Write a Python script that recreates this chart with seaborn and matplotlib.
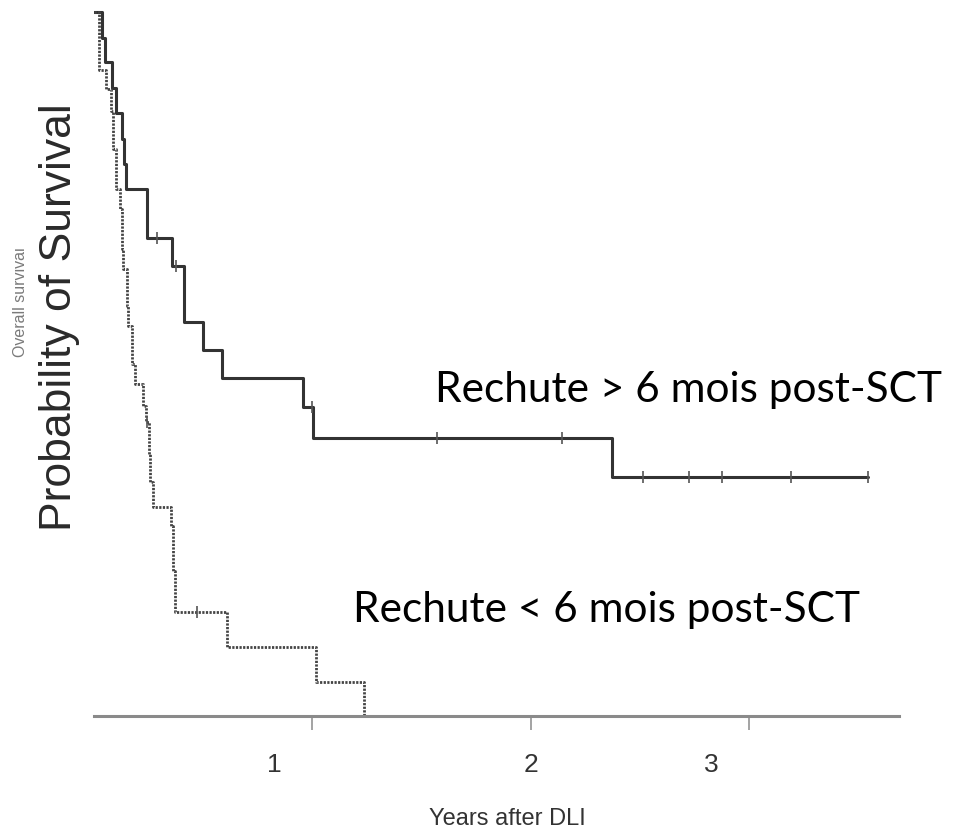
import numpy as np
import pandas as pd
import matplotlib
matplotlib.use("Agg")
import matplotlib.pyplot as plt
from matplotlib.transforms import ScaledTranslation
from matplotlib.patches import Rectangle
import seaborn as sns

# Kaplan-Meier steps, time in years after DLI
late_time = [0.000, 0.037, 0.050, 0.082, 0.101, 0.128, 0.137, 0.146, 0.243,
             0.357, 0.412, 0.499, 0.586, 0.957, 1.002, 2.371, 3.542]
late_surv = [1.000, 0.963, 0.929, 0.892, 0.857, 0.820, 0.784, 0.749, 0.679,
             0.639, 0.560, 0.520, 0.480, 0.439, 0.395, 0.339, 0.339]
late_censor = [0.288, 0.375, 0.998, 1.570, 2.142, 2.513, 2.723, 2.874, 3.190, 3.542]

early_time = [0.000, 0.023, 0.055, 0.078, 0.087, 0.101, 0.119, 0.128, 0.133,
              0.151, 0.156, 0.174, 0.188, 0.225, 0.236, 0.252, 0.256, 0.270,
              0.353, 0.362, 0.371, 0.609, 1.016, 1.236]
early_surv = [1.000, 0.918, 0.891, 0.859, 0.805, 0.749, 0.720, 0.663, 0.635,
              0.582, 0.554, 0.500, 0.472, 0.440, 0.418, 0.372, 0.332, 0.297,
              0.270, 0.206, 0.148, 0.098, 0.048, 0.000]
early_censor = [0.243, 0.471]

x_ticks = [1, 2, 3]
x_tick_labels = ["1", "2", "3"]

label_late = "Rechute > 6 mois post-SCT"
label_early = "Rechute < 6 mois post-SCT"


def surv_at(times, surv, t):
    idx = np.searchsorted(np.asarray(times), np.asarray(t), side="right") - 1
    return np.asarray(surv)[idx]


late_df = pd.DataFrame({"time": late_time, "surv": late_surv})
early_df = pd.DataFrame({"time": early_time, "surv": early_surv})

sns.set_theme(style="white")
plt.rcParams["font.family"] = ["Liberation Sans", "DejaVu Sans"]

W, H = 954, 837
fig = plt.figure(figsize=(W / 100, H / 100), dpi=100)
px_per_year = 218.5
left_px, right_px, zero_px, top_s = 94, 899, 717, 1.02
ax = fig.add_axes([left_px / W, (H - zero_px) / H,
                   (right_px - left_px) / W, top_s * 704 / H])

sns.lineplot(data=late_df, x="time", y="surv", ax=ax, drawstyle="steps-post",
             estimator=None, sort=False, color="#333333", linewidth=2.2)
sns.lineplot(data=early_df, x="time", y="surv", ax=ax, drawstyle="steps-post",
             estimator=None, sort=False, color="#444444", linewidth=2.0,
             linestyle=(0, (0.8, 0.5)))

# censoring marks
ax.plot(late_censor, surv_at(late_time, late_surv, late_censor), linestyle="none",
        marker="|", markersize=9, markeredgewidth=1.2, color="#555555")
ax.plot(early_censor, surv_at(early_time, early_surv, early_censor), linestyle="none",
        marker="|", markersize=9, markeredgewidth=1.2, color="#555555")

ax.set_xlim(0, (right_px - left_px) / px_per_year)
ax.set_ylim(0, top_s)

for side in ("left", "top", "right"):
    ax.spines[side].set_visible(False)
ax.spines["bottom"].set_color("#8a8a8a")
ax.spines["bottom"].set_linewidth(2.2)

ax.set_yticks([])
ax.set_xticks(x_ticks)
ax.set_xticklabels(x_tick_labels)
ax.tick_params(axis="x", direction="out", length=10, width=1.1, color="#8a8a8a",
               pad=16, labelsize=19, labelcolor="#333333", bottom=True)

ax.set_xlabel("Years after DLI", fontsize=17, color="#333333")
ax.xaxis.set_label_coords(0.514, -0.127)

ax.set_ylabel("Probability of Survival", fontsize=32, color="#2a2a2a")
ax.yaxis.set_label_coords(-0.0174, 0.557)

fig.text(28 / W, 1 - 302 / H, "Overall survival", rotation=90, ha="right",
         va="center", fontsize=11.5, color="#7a7a7a")
fig.add_artist(Rectangle((0, 1 - 308 / H), 15.5 / W, 62 / H, transform=fig.transFigure,
                         facecolor="white", edgecolor="none", zorder=10))

ax.text(1.561, 0.447, label_late, family=["Lato", "DejaVu Sans"], fontsize=30.5,
        va="baseline", ha="left", color="black", clip_on=False)
ax.text(1.185, 0.135, label_early, family=["Lato", "DejaVu Sans"], fontsize=30.5,
        va="baseline", ha="left", color="black", clip_on=False)

# the outer tick labels sit a little to the left of their ticks
ticks = ax.xaxis.get_major_ticks()
for i in (0, 2):
    lab = ticks[i].label1
    lab.set_transform(lab.get_transform() + ScaledTranslation(-0.38, 0, fig.dpi_scale_trans))

fig.savefig("out.png", dpi=100)
